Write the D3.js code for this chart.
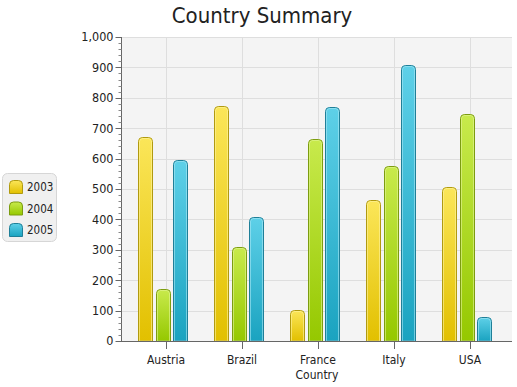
<!DOCTYPE html>
<html><head><meta charset="utf-8">
<script src="https://cdn.jsdelivr.net/npm/d3@7"></script>
<style>body{margin:0;background:#fff}svg{display:block}text{font-family:"DejaVu Sans Condensed","DejaVu Sans",sans-serif;font-stretch:condensed;fill:#222}</style>
</head><body>
<svg id="c" width="517" height="387"></svg>
<script>
const categories = ["Austria","Brazil","France","Italy","USA"];
const seriesNames = ["2003","2004","2005"];
const v2003 = [670, 773, 101, 463, 507];
const v2004 = [170, 308, 666, 575, 747];
const v2005 = [597, 409, 769, 908, 78];
const yTicks = [0,100,200,300,400,500,600,700,800,900,1000];
const title = "Country Summary";
const xLabel = "Country";

const series = [v2003, v2004, v2005];
const colors = [
  {top:"#fbe659", bot:"#e2c000", stroke:"#b09a10", hi:"#fff3a0"},
  {top:"#c8ea4c", bot:"#95c800", stroke:"#7c9c10", hi:"#e2f59a"},
  {top:"#5ed0e8", bot:"#1aa3c0", stroke:"#1f7f98", hi:"#a8e8f5"}
];

const svg = d3.select("#c");
const L = 121, R = 512, T = 37, B = 341;
const defs = svg.append("defs");
colors.forEach((c,i)=>{
  const g = defs.append("linearGradient").attr("id","g"+i).attr("x1",0).attr("y1",0).attr("x2",0).attr("y2",1);
  g.append("stop").attr("offset","0%").attr("stop-color",c.top);
  g.append("stop").attr("offset","100%").attr("stop-color",c.bot);
});

const y = d3.scaleLinear().domain([0,1000]).range([B,T]);
const x = d3.scalePoint().domain(categories).range([166,470]);

svg.append("rect").attr("x",L+1).attr("y",T).attr("width",R-L-1).attr("height",B-T).attr("fill","#f4f4f4");
svg.append("g").selectAll("line").data(yTicks.filter(d=>d>0)).join("line")
  .attr("x1",L+1).attr("x2",R).attr("y1",d=>Math.round(y(d))+0.5).attr("y2",d=>Math.round(y(d))+0.5)
  .attr("stroke","#dedede").attr("stroke-width",1);
svg.append("g").selectAll("line").data(categories).join("line")
  .attr("x1",d=>Math.round(x(d))+0.5).attr("x2",d=>Math.round(x(d))+0.5).attr("y1",T).attr("y2",B)
  .attr("stroke","#dedede").attr("stroke-width",1);

const bw = 14, stride = 17.6, off = -3.5;
function barPath(x0, y0, w, h, r){
  r = Math.min(r, h/2, w/2);
  return `M${x0},${y0+h}V${y0+r}Q${x0},${y0} ${x0+r},${y0}H${x0+w-r}Q${x0+w},${y0} ${x0+w},${y0+r}V${y0+h}Z`;
}
series.forEach((vals,si)=>{
  const g = svg.append("g");
  categories.forEach((cat,ci)=>{
    const cx = x(cat) + off + (si-1)*stride;
    const x0 = Math.round(cx - bw/2) + 0.5;
    const top = Math.round(y(vals[ci])) + 0.5;
    const h = B - top;
    g.append("path").attr("d",barPath(x0, top, bw, h, 4))
      .attr("fill","url(#g"+si+")").attr("stroke",colors[si].stroke).attr("stroke-width",1);
    g.append("path").attr("d",barPath(x0+1, top+1, bw-2, h-1, 3))
      .attr("fill","none").attr("stroke",colors[si].hi).attr("stroke-opacity",0.6).attr("stroke-width",1);
  });
});

const ya = svg.append("g").attr("transform",`translate(${L+0.5},0)`);
ya.append("line").attr("y1",T).attr("y2",B).attr("stroke","#666");
const minor = d3.range(0,1001,20).filter(d=>d%100!==0);
ya.selectAll("line.mi").data(minor).join("line").attr("class","mi")
  .attr("x1",-3).attr("x2",0).attr("y1",d=>Math.round(y(d))+0.5).attr("y2",d=>Math.round(y(d))+0.5).attr("stroke","#888");
ya.selectAll("line.ma").data(yTicks).join("line").attr("class","ma")
  .attr("x1",-6).attr("x2",0).attr("y1",d=>Math.round(y(d))+0.5).attr("y2",d=>Math.round(y(d))+0.5).attr("stroke","#666");
ya.selectAll("text").data(yTicks).join("text")
  .attr("x",-8).attr("y",d=>y(d)).attr("dy","0.35em").attr("text-anchor","end")
  .attr("font-size","12.5px").text(d=>d3.format(",")(d));

const xa = svg.append("g");
xa.append("line").attr("x1",L).attr("x2",R).attr("y1",B+0.5).attr("y2",B+0.5).attr("stroke","#666");
xa.selectAll("line.t").data(categories).join("line").attr("class","t")
  .attr("x1",d=>Math.round(x(d))+0.5).attr("x2",d=>Math.round(x(d))+0.5).attr("y1",B).attr("y2",B+8).attr("stroke","#666");
xa.selectAll("text").data(categories).join("text")
  .attr("x",d=>x(d)).attr("y",359.5).attr("dy","0.35em").attr("text-anchor","middle")
  .attr("font-size","12px").text(d=>d);
svg.append("text").attr("x",317).attr("y",374.5).attr("dy","0.35em").attr("text-anchor","middle")
  .attr("font-size","12px").text(xLabel);

svg.append("text").attr("x",262).attr("y",15).attr("dy","0.35em").attr("text-anchor","middle")
  .attr("font-size","22px").text(title);

const lg = svg.append("g");
lg.append("rect").attr("x",2.5).attr("y",173.5).attr("width",54).attr("height",68).attr("rx",5)
  .attr("fill","#f0f0f0").attr("stroke","#d6d6d6");
seriesNames.forEach((s,i)=>{
  const yy = 180 + i*21.5;
  lg.append("path").attr("d",barPath(9.5, yy+0.5, 13, 13, 4)).attr("fill","url(#g"+i+")").attr("stroke",colors[i].stroke);
  lg.append("text").attr("x",27).attr("y",yy+7).attr("dy","0.35em").attr("font-size","11.5px").text(s);
});
</script>
</body></html>
